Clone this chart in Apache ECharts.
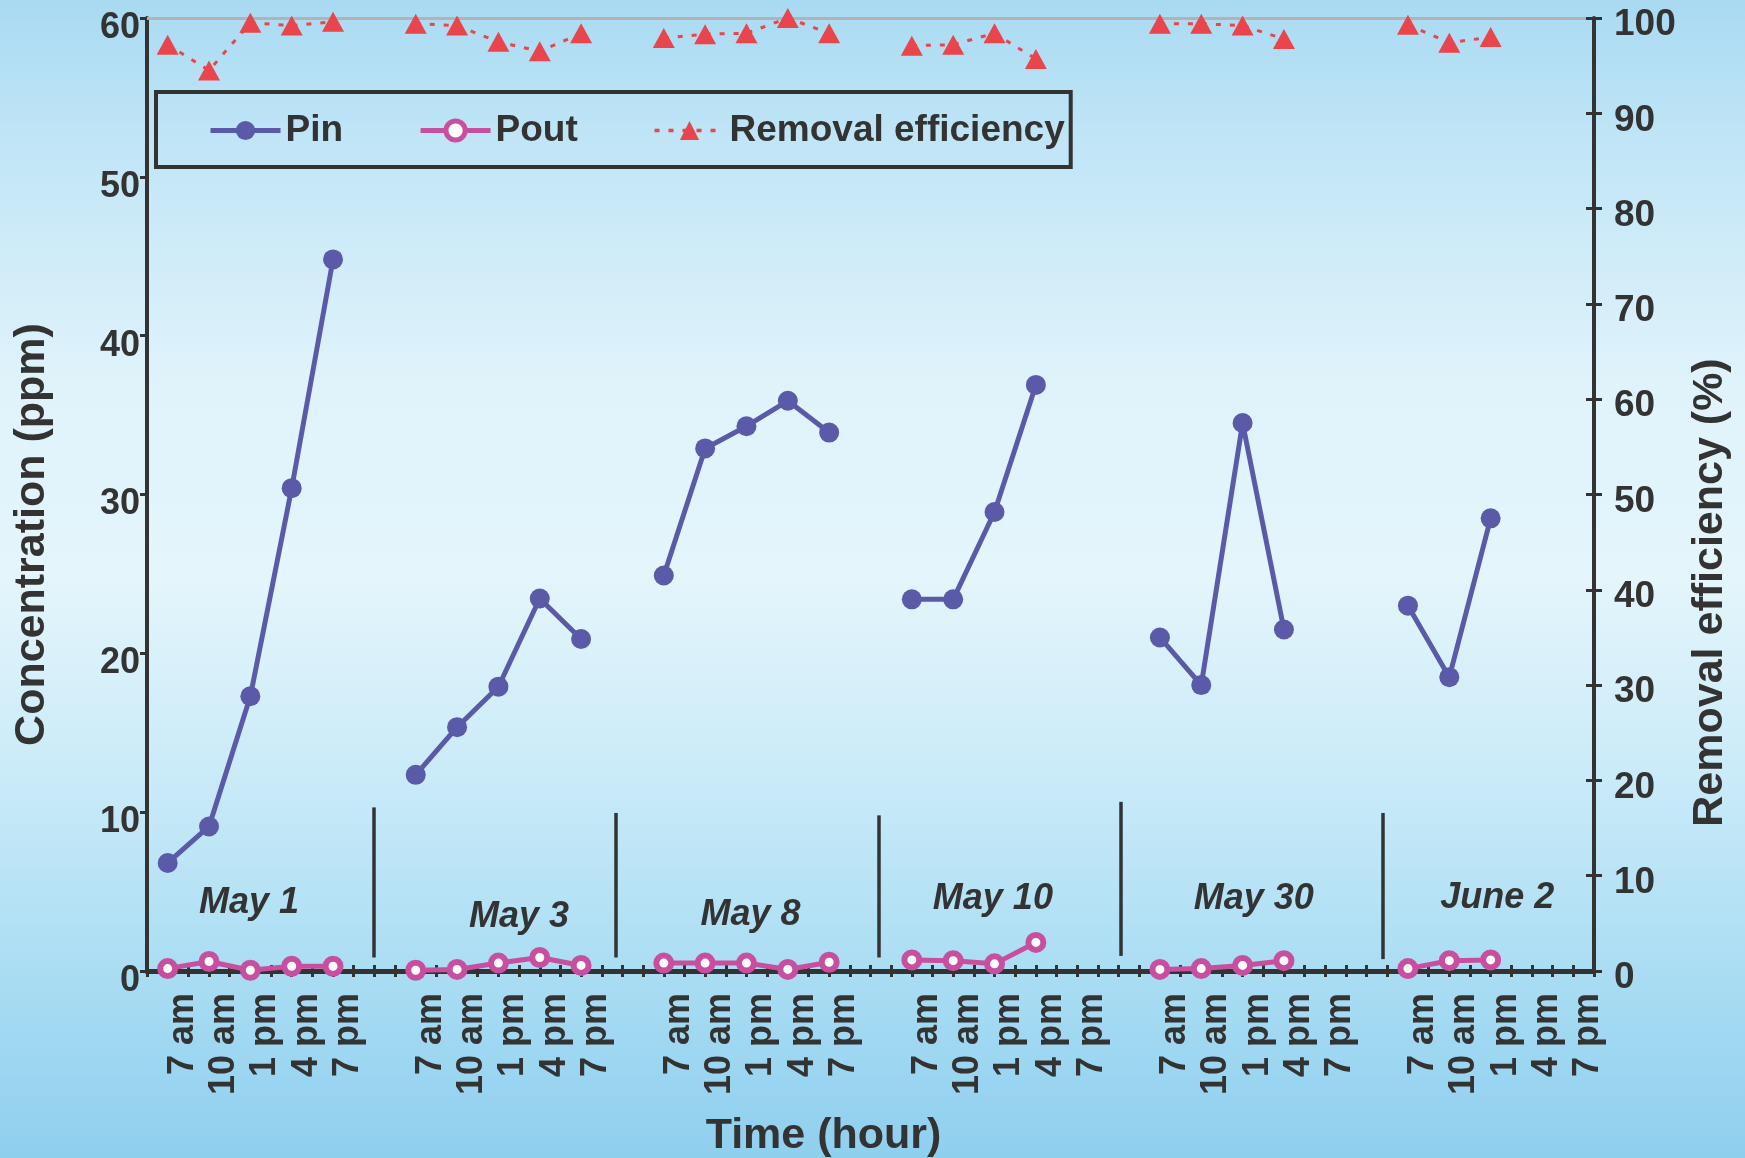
<!DOCTYPE html>
<html>
<head>
<meta charset="utf-8">
<title>Pin, Pout and removal efficiency</title>
<script src="https://cdn.jsdelivr.net/npm/echarts@6/dist/echarts.min.js"></script>
<style>
  html, body { margin: 0; padding: 0; }
  #chart { width: 1745px; height: 1158px; }
</style>
</head>
<body>
<div id="chart"></div>
<script>
// Sampling days and the reading times within each day
const days = ['May 1', 'May 3', 'May 8', 'May 10', 'May 30', 'June 2'];
const hours = ['7 am', '10 am', '1 pm', '4 pm', '7 pm'];

// Inlet concentration (ppm), one list per day
const pinValues = [
  [6.8, 9.1, 17.3, 30.4, 44.8],
  [12.35, 15.35, 17.9, 23.45, 20.9],
  [24.9, 32.9, 34.3, 35.9, 33.9],
  [23.4, 23.4, 28.9, 36.9],
  [21.0, 18.0, 34.5, 21.5],
  [23.0, 18.5, 28.5]
];

// Outlet concentration (ppm)
const poutValues = [
  [0.15, 0.6, 0.05, 0.3, 0.3],
  [0.05, 0.1, 0.5, 0.85, 0.35],
  [0.5, 0.5, 0.5, 0.1, 0.55],
  [0.7, 0.65, 0.45, 1.8],
  [0.1, 0.15, 0.35, 0.65],
  [0.15, 0.65, 0.7]
];

// Removal efficiency (%)
const removalValues = [
  [97.2, 94.5, 99.5, 99.2, 99.6],
  [99.4, 99.2, 97.5, 96.5, 98.4],
  [97.9, 98.3, 98.4, 100, 98.4],
  [97.1, 97.2, 98.4, 95.7],
  [99.4, 99.4, 99.2, 97.8],
  [99.3, 97.4, 98.0]
];

// Axis scales
const concAxis = { min: 0, max: 60, interval: 10 };
const effAxis = { min: 0, max: 100, interval: 10 };

// Where each day caption sits: [slot offset inside the day block, concentration level]
const dayCaptionAnchors = [[1.97, 4.3], [2.5, 3.4], [2.1, 3.5], [1.96, 4.5], [2.27, 4.5], [2.16, 4.6]];
// Day dividers in the spacer slots: [slot shift, upper end, lower end] in ppm
const dividerSpans = [[-0.02, 10.3, 0.85], [-0.16, 9.95, 0.85], [0.21, 9.8, 0.85], [0.05, 10.65, 0.95], [0.39, 9.95, 0.75]];

const SLOTS = hours.length + 1; // five readings plus one spacer between days
const INK = '#333333';
const FONT = '"Liberation Sans", Arial, Helvetica, sans-serif';
const PIN_COLOR = '#5a5aa8';
const POUT_COLOR = '#c84fa0';
const EFF_COLOR = '#e8454d';

// Category axis: the five reading times of each day, a blank spacer between days
const categories = [];
days.forEach((d, i) => {
  hours.forEach(h => categories.push(h));
  if (i < days.length - 1) categories.push('');
});

// Lay the per-day lists out along the category axis, with gaps between days
function spread(perDay) {
  const out = [];
  perDay.forEach((vals, i) => {
    for (let k = 0; k < hours.length; k++) out.push(k < vals.length ? vals[k] : null);
    if (i < perDay.length - 1) out.push(null);
  });
  return out;
}

const tickLine = { color: INK, width: 3 };

// Extra copies of the category axis that only contribute tick marks,
// so ticks cross the axis line both at readings and between them
function tickOnlyAxis(tick) {
  return {
    type: 'category', data: categories, position: 'bottom', boundaryGap: true,
    axisLine: { show: false, onZero: false },
    axisLabel: { show: false },
    splitLine: { show: false },
    axisTick: Object.assign({ show: true, interval: 0, length: 6, lineStyle: tickLine }, tick)
  };
}

const captionData = dayCaptionAnchors.map((a, i) => ({
  name: days[i],
  value: [i * SLOTS + a[0], a[1]]
}));

const dividerLines = dividerSpans.map((s, i) => {
  const x = (i + 1) * SLOTS - 1 + s[0];
  return [{ coord: [x, s[1]] }, { coord: [x, s[2]] }];
});

const chart = echarts.init(document.getElementById('chart'), null, { renderer: 'canvas' });

chart.setOption({
  animation: false,
  backgroundColor: {
    type: 'linear', x: 0, y: 0, x2: 0, y2: 1,
    colorStops: [
      { offset: 0, color: '#a9daf2' },
      { offset: 0.12, color: '#c0e5f6' },
      { offset: 0.33, color: '#e0f3fb' },
      { offset: 0.5, color: '#e4f5fb' },
      { offset: 0.68, color: '#c8eaf8' },
      { offset: 0.85, color: '#a8dcf3' },
      { offset: 1, color: '#8fcfee' }
    ]
  },
  textStyle: { fontFamily: FONT },
  grid: { left: 147, right: 151, top: 18, bottom: 187, containLabel: false, outerBoundsMode: 'none' },
  legend: {
    data: [
      { name: 'Pin', lineStyle: { width: 5 } },
      { name: 'Pout', lineStyle: { width: 5 }, itemStyle: { borderWidth: 5 } },
      { name: 'Removal efficiency', lineStyle: { width: 3.5 } }
    ],
    left: 156, top: 92,
    itemWidth: 70, itemHeight: 24, itemGap: 75,
    padding: [20, 6, 18, 52],
    borderColor: INK, borderWidth: 4,
    textStyle: { fontSize: 37, fontWeight: 'bold', color: INK, fontFamily: FONT }
  },
  xAxis: [
    {
      type: 'category', data: categories, position: 'bottom', boundaryGap: true,
      axisLine: { onZero: false, lineStyle: { color: INK, width: 5 } },
      axisTick: { show: true, interval: 0, alignWithLabel: true, length: 6, lineStyle: tickLine },
      axisLabel: {
        interval: 0, rotate: 90, margin: 22, fontSize: 36, fontWeight: 'bold', color: INK, fontFamily: FONT,
        verticalAlign: 'top', lineHeight: 30
      },
      splitLine: { show: false },
      name: 'Time (hour)', nameLocation: 'middle', nameGap: 144,
      nameTextStyle: { fontSize: 43, fontWeight: 'bold', color: INK, fontFamily: FONT, padding: [0, 94, 0, 0] }
    },
    tickOnlyAxis({ alignWithLabel: true, inside: true }),
    tickOnlyAxis({ inside: false }),
    tickOnlyAxis({ inside: true }),
    {
      type: 'category', data: categories, position: 'top', boundaryGap: true,
      axisLine: { onZero: false, lineStyle: { color: '#b3b3b3', width: 3 } },
      axisTick: { show: false }, axisLabel: { show: false }, splitLine: { show: false }
    },
    {
      // hidden continuous twin of the category axis, used to place day captions and dividers
      type: 'value', show: false, min: -0.5, max: categories.length - 0.5,
      axisLine: { onZero: false }, splitLine: { show: false }
    }
  ],
  yAxis: [
    {
      type: 'value', position: 'left', min: concAxis.min, max: concAxis.max, interval: concAxis.interval,
      axisLine: { show: true, onZero: false, lineStyle: { color: INK, width: 4 } },
      axisTick: { show: true, length: 7, lineStyle: tickLine },
      axisLabel: {
        margin: 7, fontSize: 36, fontWeight: 'bold', color: INK, fontFamily: FONT,
        verticalAlign: 'top', lineHeight: 20
      },
      splitLine: { show: false },
      name: 'Concentration (ppm)', nameLocation: 'middle', nameRotate: 90, nameGap: 93,
      nameTextStyle: { fontSize: 43, fontWeight: 'bold', color: INK, fontFamily: FONT, padding: [0, 80, 0, 0] }
    },
    {
      type: 'value', position: 'right', min: effAxis.min, max: effAxis.max, interval: effAxis.interval,
      axisLine: { show: true, onZero: false, lineStyle: { color: INK, width: 4 } },
      axisTick: { show: true, length: 8, lineStyle: tickLine },
      axisLabel: {
        margin: 20, fontSize: 37, fontWeight: 'bold', color: INK, fontFamily: FONT,
        verticalAlign: 'top', lineHeight: 14
      },
      splitLine: { show: false },
      name: 'Removal efficiency (%)', nameLocation: 'middle', nameRotate: 90, nameGap: 95,
      nameTextStyle: { fontSize: 43, fontWeight: 'bold', color: INK, fontFamily: FONT, padding: [0, 196, 0, 0] }
    },
    {
      type: 'value', position: 'right', min: effAxis.min, max: effAxis.max, interval: effAxis.interval,
      axisLine: { show: false, onZero: false },
      axisTick: { show: true, inside: true, length: 8, lineStyle: tickLine },
      axisLabel: { show: false }, splitLine: { show: false }
    }
  ],
  series: [
    {
      name: 'Pin', type: 'line', xAxisIndex: 0, yAxisIndex: 0,
      data: spread(pinValues), connectNulls: false,
      symbol: 'circle', symbolSize: 20,
      lineStyle: { color: PIN_COLOR, width: 5 },
      itemStyle: { color: PIN_COLOR },
      z: 4
    },
    {
      name: 'Pout', type: 'line', xAxisIndex: 0, yAxisIndex: 0,
      data: spread(poutValues), connectNulls: false,
      symbol: 'circle', symbolSize: 15,
      lineStyle: { color: POUT_COLOR, width: 5 },
      itemStyle: { color: '#ffffff', borderColor: POUT_COLOR, borderWidth: 6 },
      z: 4
    },
    {
      name: 'Removal efficiency', type: 'line', xAxisIndex: 0, yAxisIndex: 1,
      data: spread(removalValues), connectNulls: false,
      symbol: 'triangle', symbolSize: [22, 20],
      lineStyle: { color: EFF_COLOR, width: 3, type: [5, 9] },
      itemStyle: { color: EFF_COLOR },
      z: 4
    },
    {
      name: 'days', type: 'scatter', xAxisIndex: 5, yAxisIndex: 0,
      data: captionData, symbolSize: 0, silent: true, z: 3,
      itemStyle: { opacity: 1 },
      label: {
        show: true, position: 'inside', formatter: '{b}', opacity: 1,
        fontSize: 36, fontWeight: 'bold', fontStyle: 'italic', color: INK, fontFamily: FONT
      },
      markLine: {
        silent: true, symbol: 'none', animation: false,
        label: { show: false },
        lineStyle: { color: INK, width: 3.5, type: 'solid', opacity: 1 },
        data: dividerLines
      }
    }
  ]
});
</script>
</body>
</html>
